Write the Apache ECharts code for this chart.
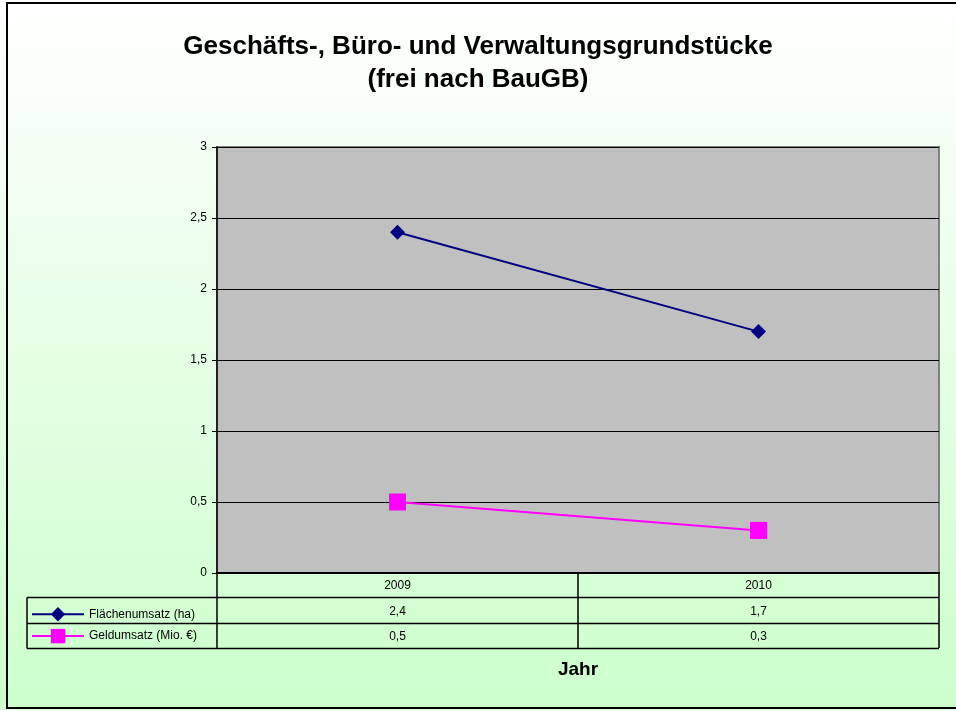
<!DOCTYPE html>
<html>
<head>
<meta charset="utf-8">
<script src="https://cdn.jsdelivr.net/npm/echarts@6/dist/echarts.min.js"></script>
<style>
  html, body { margin: 0; padding: 0; }
  #chart { width: 956px; height: 710px; }
</style>
</head>
<body>
<div id="chart"></div>
<script>
// Werte aus dem Diagramm
const jahre = ['2009', '2010'];
const flaechenumsatz = [2.4, 1.7];
const geldumsatz = [0.5, 0.3];
const serienNamen = ['Flächenumsatz (ha)', 'Geldumsatz (Mio. €)'];

const komma = v => String(v).replace('.', ',');

const chart = echarts.init(document.getElementById('chart'));

// Tabellenlinien unter der Achse
const tabLinie = (x1, y1, x2, y2) => ({
    type: 'line',
    shape: { x1: x1, y1: y1, x2: x2, y2: y2 },
    style: { stroke: '#000', lineWidth: 1.5 },
    z: 10
});

const option = {
    backgroundColor: {
        type: 'linear', x: 0, y: 0, x2: 0, y2: 1,
        colorStops: [
            { offset: 0, color: '#ffffff' },
            { offset: 1, color: '#ccffcc' }
        ]
    },
    textStyle: { fontFamily: 'Liberation Sans, Arial, sans-serif' },
    title: {
        text: 'Geschäfts-, Büro- und Verwaltungsgrundstücke\n(frei nach BauGB)',
        left: 'center',
        top: 30,
        padding: 0,
        textStyle: {
            fontSize: 26,
            fontWeight: 'bold',
            lineHeight: 33,
            color: '#000'
        }
    },
    legend: {
        orient: 'vertical',
        left: 26,
        top: 602,
        itemWidth: 52,
        itemHeight: 18,
        itemGap: 7.5,
        data: serienNamen,
        textStyle: { fontSize: 12, color: '#000' }
    },
    grid: {
        left: 217,
        right: 17,
        top: 147,
        bottom: 137,
        show: true,
        backgroundColor: '#c0c0c0',
        borderColor: '#808080',
        borderWidth: 2
    },
    xAxis: {
        type: 'category',
        data: jahre,
        boundaryGap: true,
        name: 'Jahr',
        nameLocation: 'middle',
        nameGap: 87,
        nameTextStyle: { fontSize: 19, fontWeight: 'bold', color: '#000' },
        axisLine: { lineStyle: { color: '#000', width: 2 } },
        axisTick: { show: true, interval: 0, length: 75, lineStyle: { color: '#000', width: 1.5 } },
        axisLabel: {
            margin: 0,
            fontSize: 12,
            color: '#000',
            lineHeight: 25.5,
            formatter: (v, i) => v + '\n' + komma(flaechenumsatz[i]) + '\n' + komma(geldumsatz[i])
        }
    },
    yAxis: {
        type: 'value',
        min: 0,
        max: 3,
        interval: 0.5,
        axisLine: { show: true, lineStyle: { color: '#000', width: 1.5 } },
        axisTick: { show: true, length: 5, lineStyle: { color: '#000' } },
        axisLabel: {
            margin: 10,
            fontSize: 12,
            color: '#000',
            formatter: v => komma(v)
        },
        splitLine: { lineStyle: { color: '#000', width: 1 } }
    },
    series: [
        {
            name: serienNamen[0],
            type: 'line',
            data: flaechenumsatz,
            color: '#000080',
            symbol: 'diamond',
            symbolSize: 15,
            lineStyle: { width: 2 }
        },
        {
            name: serienNamen[1],
            type: 'line',
            data: geldumsatz,
            color: '#ff00ff',
            symbol: 'rect',
            symbolSize: 17,
            lineStyle: { width: 2 }
        }
    ],
    graphic: [
        tabLinie(217, 597.5, 939, 597.5),
        tabLinie(217, 623.5, 939, 623.5),
        tabLinie(27, 648.5, 939, 648.5),
        tabLinie(27, 597.5, 217, 597.5),
        tabLinie(27, 623.5, 217, 623.5),
        tabLinie(27, 597.5, 27, 648.5),
        {
            type: 'rect',
            shape: { x: 7, y: 3, width: 960, height: 705 },
            style: { fill: 'none', stroke: '#000', lineWidth: 2 },
            z: 10
        }
    ]
};

chart.setOption(option);
</script>
</body>
</html>
